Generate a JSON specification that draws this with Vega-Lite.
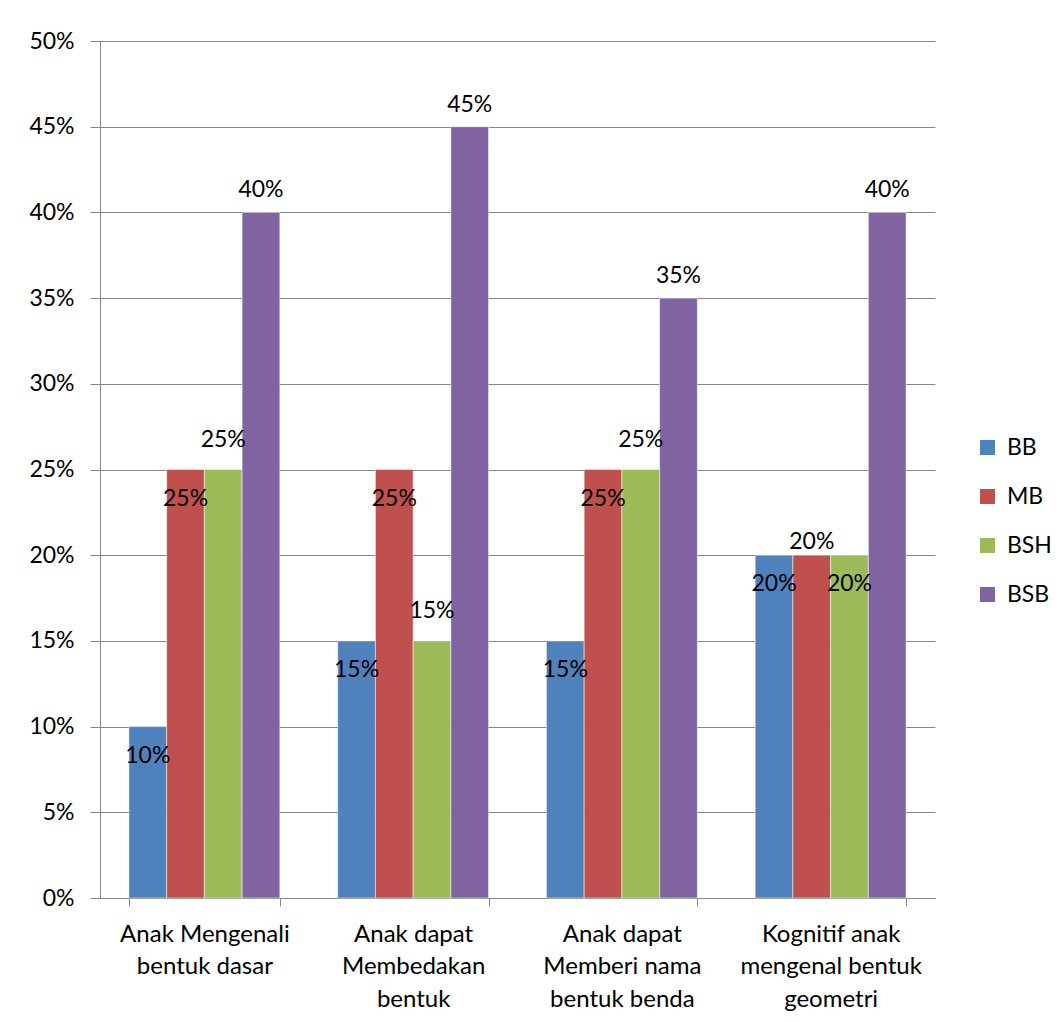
{
  "$schema": "https://vega.github.io/schema/vega-lite/v6.json",
  "width": 835,
  "height": 857,
  "autosize": {"type": "none"},
  "padding": {"left": 100, "top": 41, "right": 124, "bottom": 124},
  "background": "white",
  "config": {
    "font": "Lato",
    "view": {"stroke": null},
    "axis": {"labelFont": "Lato", "labelFontSize": 23, "labelColor": "#000000", "domainColor": "#868686", "tickColor": "#868686", "gridColor": "#868686", "title": null},
    "legend": {"labelFont": "Lato", "labelFontSize": 23, "labelColor": "#000000"}
  },
  "data": {
    "values": [
      {"category": "Anak Mengenali bentuk dasar", "series": "BB", "value": 0.10},
      {"category": "Anak Mengenali bentuk dasar", "series": "MB", "value": 0.25},
      {"category": "Anak Mengenali bentuk dasar", "series": "BSH", "value": 0.25},
      {"category": "Anak Mengenali bentuk dasar", "series": "BSB", "value": 0.40},
      {"category": "Anak dapat Membedakan bentuk", "series": "BB", "value": 0.15},
      {"category": "Anak dapat Membedakan bentuk", "series": "MB", "value": 0.25},
      {"category": "Anak dapat Membedakan bentuk", "series": "BSH", "value": 0.15},
      {"category": "Anak dapat Membedakan bentuk", "series": "BSB", "value": 0.45},
      {"category": "Anak dapat Memberi nama bentuk benda", "series": "BB", "value": 0.15},
      {"category": "Anak dapat Memberi nama bentuk benda", "series": "MB", "value": 0.25},
      {"category": "Anak dapat Memberi nama bentuk benda", "series": "BSH", "value": 0.25},
      {"category": "Anak dapat Memberi nama bentuk benda", "series": "BSB", "value": 0.35},
      {"category": "Kognitif anak mengenal bentuk geometri", "series": "BB", "value": 0.20},
      {"category": "Kognitif anak mengenal bentuk geometri", "series": "MB", "value": 0.20},
      {"category": "Kognitif anak mengenal bentuk geometri", "series": "BSH", "value": 0.20},
      {"category": "Kognitif anak mengenal bentuk geometri", "series": "BSB", "value": 0.40}
    ]
  },
  "encoding": {
    "x": {
      "field": "category",
      "type": "nominal",
      "sort": null,
      "scale": {"paddingInner": 0.277, "paddingOuter": 0.1385},
      "axis": {
        "labelAngle": 0,
        "tickBand": "extent",
        "tickSize": 8,
        "labelPadding": 16,
        "labelLineHeight": 32.5,
        "labelBaseline": "top",
        "labelLimit": 300,
        "labelFontSize": 24,
        "labelExpr": "datum.value == 'Anak Mengenali bentuk dasar' ? ['Anak Mengenali', 'bentuk dasar'] : datum.value == 'Anak dapat Membedakan bentuk' ? ['Anak dapat', 'Membedakan', 'bentuk'] : datum.value == 'Anak dapat Memberi nama bentuk benda' ? ['Anak dapat', 'Memberi nama', 'bentuk benda'] : datum.value == 'Kognitif anak mengenal bentuk geometri' ? ['Kognitif anak', 'mengenal bentuk', 'geometri'] : ''"
      }
    },
    "xOffset": {"field": "series", "type": "nominal", "sort": ["BB", "MB", "BSH", "BSB"], "scale": {"paddingInner": 0, "paddingOuter": 0}},
    "y": {
      "field": "value",
      "type": "quantitative",
      "scale": {"domain": [0, 0.5], "nice": false},
      "axis": {"format": ".0%", "values": [0, 0.05, 0.1, 0.15, 0.2, 0.25, 0.3, 0.35, 0.4, 0.45, 0.5], "grid": true, "tickSize": 10, "labelPadding": 16, "domain": true}
    }
  },
  "layer": [
    {
      "mark": {"type": "bar", "stroke": "white", "strokeWidth": 0.5},
      "encoding": {
        "color": {
          "field": "series",
          "type": "nominal",
          "scale": {"domain": ["BB", "MB", "BSH", "BSB"], "range": ["#4F81BD", "#C0504D", "#9BBB59", "#8064A2"]},
          "legend": {"title": null, "orient": "none", "legendX": 876, "legendY": 395, "symbolType": "square", "symbolSize": 225, "symbolStrokeWidth": 0, "rowPadding": 25, "labelOffset": 8}
        }
      }
    },
    {
      "transform": [{"filter": "datum.series == 'BB' || (datum.series == 'MB' && datum.category != 'Kognitif anak mengenal bentuk geometri') || (datum.series == 'BSH' && datum.category == 'Kognitif anak mengenal bentuk geometri')"}],
      "mark": {"type": "text", "dy": 29, "baseline": "middle", "fontSize": 23, "font": "Lato", "color": "black"},
      "encoding": {"text": {"field": "value", "type": "quantitative", "format": ".0%"}}
    },
    {
      "transform": [{"filter": "datum.series == 'BSH' && datum.category != 'Kognitif anak mengenal bentuk geometri'"}],
      "mark": {"type": "text", "dy": -30, "baseline": "middle", "fontSize": 23, "font": "Lato", "color": "black"},
      "encoding": {"text": {"field": "value", "type": "quantitative", "format": ".0%"}}
    },
    {
      "transform": [{"filter": "datum.series == 'BSB'"}],
      "mark": {"type": "text", "dy": -22, "baseline": "middle", "fontSize": 23, "font": "Lato", "color": "black"},
      "encoding": {"text": {"field": "value", "type": "quantitative", "format": ".0%"}}
    },
    {
      "transform": [{"filter": "datum.series == 'MB' && datum.category == 'Kognitif anak mengenal bentuk geometri'"}],
      "mark": {"type": "text", "dy": -13, "baseline": "middle", "fontSize": 23, "font": "Lato", "color": "black"},
      "encoding": {"text": {"field": "value", "type": "quantitative", "format": ".0%"}}
    }
  ]
}
